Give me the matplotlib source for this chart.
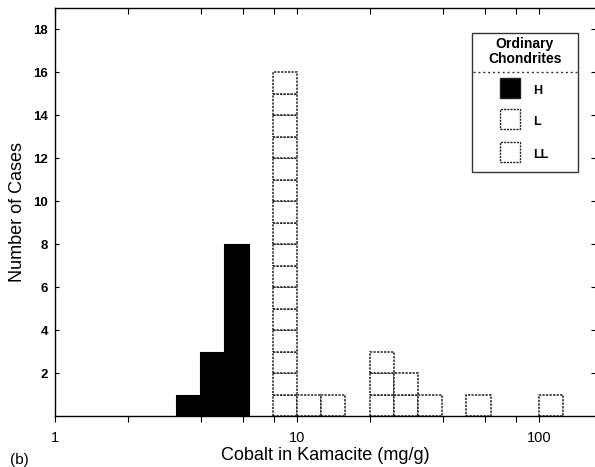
import numpy as np
import matplotlib
matplotlib.use("Agg")
import matplotlib.pyplot as plt
from matplotlib.patches import Rectangle
from matplotlib.lines import Line2D

plt.rcParams["font.family"] = ["Liberation Sans", "DejaVu Sans"]

# log10 of bin left edges (bin width 0.1 in log10) and counts
H_LEFT = [0.5, 0.6, 0.7]
H_COUNTS = [1, 3, 8]
L_LEFT = [0.9, 1.0, 1.1]
L_COUNTS = [16, 1, 1]
LL_LEFT = [1.3, 1.4, 1.5, 1.7, 2.0]
LL_COUNTS = [3, 2, 1, 1, 1]
BIN_W = 0.1

YTICKS = [2, 4, 6, 8, 10, 12, 14, 16, 18]
XMAJOR = [1, 10, 100]
XMINOR = [2, 4, 6, 8, 20, 40, 60, 80]

W, H = 595, 467
fig = plt.figure(figsize=(W / 100, H / 100), dpi=100)
ax = fig.add_axes([55 / W, 1 - 416 / H, 1 - 55 / W, (416 - 8) / H])
ax.set_xscale("log")
ax.set_xlim(1, 10 ** 2.231)
ax.set_ylim(0, 19)

# H: solid black columns
for lo, n in zip(H_LEFT, H_COUNTS):
    a, b = 10 ** lo, 10 ** (lo + BIN_W)
    ax.bar(a, n, width=b - a, align="edge", color="black", edgecolor="black", lw=0.8)

# L and LL: stacks of white boxes with dotted outlines
for left, counts in ((L_LEFT, L_COUNTS), (LL_LEFT, LL_COUNTS)):
    for lo, n in zip(left, counts):
        a, b = 10 ** lo, 10 ** (lo + BIN_W)
        for j in range(n):
            ax.bar(a, 1, width=b - a, bottom=j, align="edge", color="white",
                   edgecolor="#222222", lw=1.1, ls=(0, (1.5, 0.8)))

ax.set_yticks(YTICKS)
ax.set_yticklabels([str(v) for v in YTICKS], fontsize=9.5, fontweight="bold")
ax.set_xticks(XMAJOR)
ax.set_xticklabels(["1", "10", "100"], fontsize=10.5)
ax.set_xticks(XMINOR, minor=True)
ax.xaxis.set_minor_formatter(matplotlib.ticker.NullFormatter())
ax.tick_params(axis="x", which="both", direction="out", length=4, width=0.8,
               top=True, pad=7)
ax.tick_params(axis="y", direction="in", length=3, width=0.8, right=True, pad=5)
# top ticks inward
for t in ax.xaxis.get_major_ticks() + ax.xaxis.get_minor_ticks():
    t.tick2line.set_marker(matplotlib.markers.TICKDOWN)
ax.spines["right"].set_visible(False)
for s in ("left", "bottom", "top"):
    ax.spines[s].set_linewidth(1.0)

ax.set_xlabel("Cobalt in Kamacite (mg/g)", fontsize=13, labelpad=1)
ax.set_ylabel("Number of Cases", fontsize=13, labelpad=5)

fig.text(10 / W, 1 - 460 / H, "(b)", fontsize=11, va="center", ha="left")

# legend box drawn in figure pixels
def fx(x):
    return x / W

def fy(y):
    return 1 - y / H

fig.patches.append(Rectangle((fx(472), fy(172)), fx(578) - fx(472), fy(33) - fy(172),
                             transform=fig.transFigure, fill=False, ec="#333333", lw=1.0))
fig.text(fx(525), fy(44), "Ordinary", ha="center", va="center", fontsize=10, fontweight="bold")
fig.text(fx(525), fy(59), "Chondrites", ha="center", va="center", fontsize=10, fontweight="bold")
fig.lines.append(Line2D([fx(473), fx(577)], [fy(72), fy(72)], transform=fig.transFigure,
                        color="#333333", lw=1.0, ls=(0, (1.5, 2))))
legend_items = [("H", "black", 88), ("L", "white", 119), ("LL", "white", 152)]
for lab, col, yc in legend_items:
    fig.patches.append(Rectangle((fx(500), fy(yc + 10)), fx(20), fy(0) - fy(20),
                                 transform=fig.transFigure, fc=col, ec="#222222", lw=1.0,
                                 ls="-" if col == "black" else (0, (1.5, 0.8))))
    fig.text(fx(533), fy(yc + 3), lab, ha="left", va="center", fontsize=9, fontweight="bold")

fig.savefig("out.png", dpi=100)
